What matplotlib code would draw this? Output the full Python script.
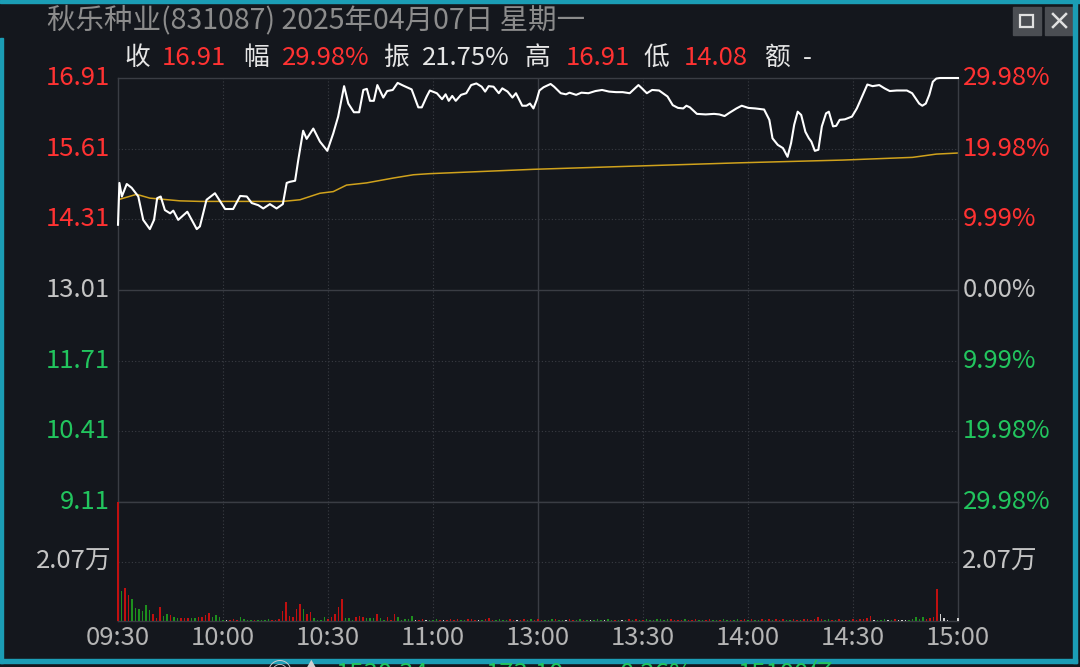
import matplotlib
matplotlib.use("Agg")
import matplotlib.pyplot as plt
from matplotlib.patches import Rectangle
from matplotlib.lines import Line2D
import matplotlib.transforms as mtransforms

plt.rcParams['font.family'] = ['Noto Sans CJK SC', 'DejaVu Sans']

# ---- data ----
title = "秋乐种业(831087) 2025年04月07日 星期一"
stat_labels = ["收", "幅", "振", "高", "低", "额"]
stat_values = ["16.91", "29.98%", "21.75%", "16.91", "14.08", "-"]

time_ticks = [0, 30, 60, 90, 120, 150, 180, 210, 240]
time_labels = ["09:30", "10:00", "10:30", "11:00", "13:00", "13:30", "14:00", "14:30", "15:00"]

price_ticks = [16.91, 15.61, 14.31, 13.01, 11.71, 10.41, 9.11]
price_labels = ["16.91", "15.61", "14.31", "13.01", "11.71", "10.41", "9.11"]
pct_labels = ["29.98%", "19.98%", "9.99%", "0.00%", "9.99%", "19.98%", "29.98%"]
prev_close = 13.01

vol_tick = 2.07
vol_label = "2.07万"

# price line (minute index, price)
price_min = [0, 0.4, 1.1, 2.5, 3.9, 5.8, 7.2, 9.1, 10.3, 11.2, 12.2, 13.4, 14.9, 15.8,
             17.2, 19.8, 22.5, 23.4, 25.3, 27.7, 30.6, 32.9, 34.9, 36.8, 38.2, 40.1,
             41.5, 43.4, 45.3, 47.1, 48.2, 49.1, 50.6, 51.5, 52.9, 53.9, 55.8, 57.7,
             59.8, 61.5, 62.9, 64.6, 65.8, 67.4, 68.9, 70.1, 71.1, 72, 73.1, 74.1,
             75.8, 76.9, 78.5, 79.9, 81.5, 83.9, 85.8, 86.8, 88.2,
             89.1, 91.1, 92.6, 93.6, 94.5, 95.5, 96.5, 98, 99.5, 100.9, 102.4, 103.9,
             104.9, 105.9, 107.3, 108.8, 109.8, 111.3, 112.7, 113.7, 115.5, 116.7,
             117.7, 118.7, 119.6, 120.4, 121.6, 123.6, 124.6, 126.5, 128, 129, 130.9,
             132.4, 134.4, 136.4, 138.3, 140.3, 142.3, 144.2, 146.2, 148.7, 149.7,
             151.1, 152.6, 154.6, 157, 158.5, 160, 161.5, 162.4, 163.4, 165.4, 167.9,
             170.3, 171.8, 173.3, 174.7, 176.7, 178.2, 180.1, 182.1, 184.6, 186.1,
             187, 188.5, 190, 191.3, 192.3, 193.2, 194.2, 195.2, 196.4, 197.4, 198.1,
             199.1, 200.1, 201.1, 202.3, 203.1, 204.3, 205.2, 206.2, 207.7, 209.7,
             211.1, 212.6, 214.1, 215.6, 217.5, 219, 220.5, 222.5, 225.4, 226.9,
             228.9, 229.8, 230.8, 231.8, 232.8, 233.8, 234.8, 240]
price = [14.21, 14.98, 14.73, 14.96, 14.89, 14.73, 14.30, 14.13, 14.30, 14.70, 14.73,
         14.48, 14.42, 14.47, 14.30, 14.45, 14.13, 14.18, 14.67, 14.79, 14.50, 14.50,
         14.74, 14.73, 14.61, 14.57, 14.51, 14.59, 14.51, 14.59, 14.98, 15.00, 15.02,
         15.40, 15.94, 15.79, 15.98, 15.74, 15.57, 15.89, 16.20, 16.76, 16.44, 16.28,
         16.28, 16.69, 16.71, 16.49, 16.49, 16.78, 16.55, 16.67, 16.69, 16.82, 16.77,
         16.70, 16.37, 16.37, 16.57,
         16.68, 16.63, 16.52, 16.61, 16.49, 16.58, 16.49, 16.60, 16.63, 16.78, 16.81,
         16.75, 16.66, 16.76, 16.75, 16.63, 16.72, 16.66, 16.55, 16.63, 16.40, 16.40,
         16.44, 16.35, 16.50, 16.68, 16.74, 16.80, 16.75, 16.63, 16.61, 16.64, 16.60,
         16.64, 16.63, 16.67, 16.69, 16.66, 16.65, 16.65, 16.63, 16.78, 16.72, 16.63,
         16.69, 16.68, 16.57, 16.41, 16.36, 16.35, 16.40, 16.37, 16.25, 16.24, 16.25,
         16.24, 16.21, 16.27, 16.35, 16.40, 16.36, 16.35, 16.33, 16.14, 15.80, 15.68,
         15.62, 15.46, 15.71, 16.05, 16.29, 16.23, 15.92, 15.80, 15.74, 15.57, 15.59,
         16.02, 16.26, 16.29, 16.02, 16.03, 16.14, 16.15, 16.20, 16.35, 16.57, 16.79,
         16.76, 16.78, 16.72, 16.67, 16.68, 16.68, 16.63, 16.44, 16.40, 16.44, 16.60,
         16.84, 16.90, 16.91, 16.91]

# average price line
avg_min = [0, 5.3, 9.1, 17.7, 23.4, 47.2, 52, 57.7, 61.5, 65.3, 71, 78.7, 84.4, 89,
           118.7, 148, 177.7, 207, 227, 233.8, 240]
avg_price = [14.67, 14.77, 14.70, 14.65, 14.64, 14.64, 14.67, 14.79, 14.82, 14.94, 14.98,
             15.07, 15.13, 15.15, 15.23, 15.29, 15.35, 15.40, 15.45, 15.51, 15.53]

# volume per minute (万 shares), r = up, g = down, w = flat
volume = [
    4.14, 1.05, 1.14, 0.91, 0.76, 0.44, 0.42, 0.35, 0.56, 0.38,
    0.24, 0.12, 0.50, 0.17, 0.24, 0.21, 0.15, 0.12, 0.09, 0.09,
    0.09, 0.12, 0.12, 0.13, 0.15, 0.21, 0.27, 0.15, 0.21, 0.13,
    0.04, 0.03, 0.05, 0.06, 0.04, 0.15, 0.06, 0.05, 0.04, 0.05,
    0.05, 0.04, 0.05, 0.06, 0.04, 0.05, 0.06, 0.35, 0.66, 0.19,
    0.13, 0.41, 0.59, 0.42, 0.23, 0.30, 0.12, 0.04, 0.05, 0.13,
    0.06, 0.15, 0.24, 0.50, 0.77, 0.12, 0.09, 0.05, 0.15, 0.17,
    0.15, 0.09, 0.09, 0.09, 0.24, 0.09, 0.05, 0.15, 0.05, 0.26,
    0.13, 0.05, 0.06, 0.06, 0.19, 0.05, 0.04, 0.06, 0.03, 0.05,
    0.05, 0.06, 0.04, 0.03, 0.05, 0.06, 0.04, 0.07, 0.05, 0.04,
    0.06, 0.08, 0.05, 0.04, 0.03, 0.07, 0.09, 0.05, 0.04, 0.06,
    0.05, 0.04, 0.06, 0.05, 0.03, 0.04, 0.06, 0.05, 0.07, 0.05,
    0.06, 0.05, 0.04, 0.05, 0.06, 0.07, 0.05, 0.04, 0.03, 0.06,
    0.05, 0.04, 0.06, 0.05, 0.04, 0.03, 0.05, 0.06, 0.04, 0.05,
    0.06, 0.05, 0.04, 0.05, 0.03, 0.04, 0.06, 0.05, 0.07, 0.05,
    0.05, 0.06, 0.04, 0.05, 0.06, 0.07, 0.05, 0.08, 0.06, 0.05,
    0.04, 0.05, 0.06, 0.05, 0.04, 0.06, 0.05, 0.04, 0.05, 0.06,
    0.05, 0.04, 0.05, 0.06, 0.05, 0.04, 0.05, 0.06, 0.05, 0.07,
    0.05, 0.06, 0.04, 0.05, 0.06, 0.05, 0.07, 0.05, 0.06, 0.05,
    0.06, 0.05, 0.04, 0.06, 0.05, 0.05, 0.06, 0.07, 0.05, 0.08,
    0.15, 0.06, 0.05, 0.06, 0.04, 0.05, 0.06, 0.05, 0.04, 0.05,
    0.06, 0.05, 0.06, 0.07, 0.09, 0.19, 0.05, 0.04, 0.05, 0.06,
    0.05, 0.04, 0.06, 0.05, 0.04, 0.05, 0.04, 0.08, 0.13, 0.06,
    0.15, 0.08, 0.12, 0.15, 1.10, 0.24, 0.09, 0.03, 0.00, 0.00,
    0.12,
]
vol_dir = "".join([
    "rgrrgggggg", "rrrggrggrr", "rggrrrrggg", "gwrrrggggr", "ggggrrrrrr",
    "rrrgrrgggg", "rrrrrgggrr", "rgggrggrrr", "gggggwrrwg", "ggrwrrrrgg",
    "rrrwgrrrgg", "ggrrwrrggr", "rrgggrggwr", "rggrgwgggw", "ggrgwgrgrg",
    "rgggggggrr", "rrgrrrggrr", "ggrggrggrr", "grggrgrgrr", "rggrrgrrrr",
    "rrggrgrgrg", "rrrrrrwggg", "wgrwwwgggg", "grrrrwwwww", "w",
])

# ---- style ----
BG = "#14171d"
GRID = "#3a3d44"
RED = "#ff3232"
GREEN = "#22c55e"
GREY = "#c4c4c4"
TEAL = "#1b9db5"
VOL_COL = {"r": "#c01010", "g": "#1e8f1e", "w": "#d0d0d0"}
FS = 18.5

W, H = 1080, 667


def fx(x):
    return x / W


def fy(y):
    return 1 - y / H


fig = plt.figure(figsize=(10.8, 6.67), dpi=100, facecolor=BG)

left, right = 118, 958
ax = fig.add_axes([fx(left), fy(502), (right - left) / W, (502 - 78) / H])
vax = fig.add_axes([fx(left), fy(621), (right - left) / W, (621 - 502) / H])

for a in (ax, vax):
    a.set_facecolor(BG)
    a.set_xlim(0, 240)
    a.set_xticks([])
    a.set_yticks([])
    for s in a.spines.values():
        s.set_color(GRID)
        s.set_linewidth(1)
    for t in time_ticks[1:-1]:
        if t == 120:
            a.axvline(t, color=GRID, lw=1, zorder=0)
        else:
            a.axvline(t, color=GRID, lw=0.8, ls=(0, (1, 2)), zorder=0)

ax.set_ylim(price_ticks[-1], price_ticks[0])
for p in price_ticks[1:-1]:
    if p == prev_close:
        ax.axhline(p, color=GRID, lw=1, zorder=0)
    else:
        ax.axhline(p, color=GRID, lw=0.8, ls=(0, (1, 2)), zorder=0)

ax.plot(avg_min, avg_price, color="#d0a21c", lw=1.1, zorder=2)
ax.plot(price_min, price, color="white", lw=1.5, zorder=3, clip_on=False)

trans_l = mtransforms.blended_transform_factory(ax.transAxes, ax.transData)
for p, lab, pct in zip(price_ticks, price_labels, pct_labels):
    if p > prev_close:
        c = RED
    elif p < prev_close:
        c = GREEN
    else:
        c = GREY
    ax.text(-0.0095, p, lab, transform=trans_l, ha="right", va="center",
            color=c, fontsize=FS, clip_on=False)
    ax.text(1.006, p, pct, transform=trans_l, ha="left", va="center",
            color=c, fontsize=FS, clip_on=False)

# volume
vax.set_ylim(0, 2 * vol_tick)
vax.axhline(vol_tick, color=GRID, lw=0.8, ls=(0, (1, 2)), zorder=0)
vax.bar(range(len(volume)), volume, width=0.45,
        color=[VOL_COL[d] for d in vol_dir], zorder=3, clip_on=False)
trans_v = mtransforms.blended_transform_factory(vax.transAxes, vax.transData)
vax.text(-0.0075, vol_tick, vol_label, transform=trans_v, ha="right", va="center",
         color=GREY, fontsize=FS, clip_on=False)
vax.text(1.005, vol_tick, vol_label, transform=trans_v, ha="left", va="center",
         color=GREY, fontsize=FS, clip_on=False)

trans_t = mtransforms.blended_transform_factory(vax.transData, fig.transFigure)
for t, lab in zip(time_ticks, time_labels):
    vax.text(t, fy(638), lab, transform=trans_t, ha="center", va="center",
             color="#b4b4b4", fontsize=FS, clip_on=False)

# header
fig.text(fx(47), fy(20), title, ha="left", va="center", color="#8c8c8c", fontsize=20.5)
label_x = [124, 243, 383, 524, 643, 764]
value_x = [162, 282, 422, 566, 684, 803]
value_col = [RED, RED, "#e6e6e6", RED, RED, "#e6e6e6"]
for lab, val, lx, vx, vc in zip(stat_labels, stat_values, label_x, value_x, value_col):
    fig.text(fx(lx), fy(58), lab, ha="left", va="center", color="#e6e6e6", fontsize=FS)
    fig.text(fx(vx), fy(58), val, ha="left", va="center", color=vc, fontsize=FS)

# window buttons
for bx in (1013, 1045):
    fig.add_artist(Rectangle((fx(bx), fy(35)), 28 / W, 28 / H,
                             transform=fig.transFigure, color="#4b4e53"))
fig.add_artist(Rectangle((fx(1020), fy(27)), 13 / W, 12 / H, transform=fig.transFigure,
                         fill=False, edgecolor="#e0e0e0", lw=1.6))
fig.add_artist(Line2D([fx(1053), fx(1066)], [fy(14), fy(27)], color="#e0e0e0", lw=1.8))
fig.add_artist(Line2D([fx(1053), fx(1066)], [fy(27), fy(14)], color="#e0e0e0", lw=1.8))

# teal window frame
fig.add_artist(Rectangle((0, fy(3)), 1, 3 / H, transform=fig.transFigure, color=TEAL))
fig.add_artist(Rectangle((0, fy(663)), 3 / W, (663 - 38) / H, transform=fig.transFigure, color=TEAL))
fig.add_artist(Rectangle((fx(1073), fy(663)), 4 / W, 663 / H, transform=fig.transFigure, color=TEAL))
fig.add_artist(Rectangle((0, fy(663)), 1077 / W, 4 / H, transform=fig.transFigure, color=TEAL))

# status row under the frame, cut off by the window edge as in the screenshot
bottom_items = ["1530.34", "173.10", "0.26%", "15100亿"]
bottom_x = [336, 486, 620, 738]
fig.text(fx(267), fy(674), "◎ ▲", ha="left", va="center", color="#d0d0d0", fontsize=FS)
for txt, bx in zip(bottom_items, bottom_x):
    fig.text(fx(bx), fy(674), txt, ha="left", va="center", color=GREEN, fontsize=FS)

fig.savefig("out.png", dpi=100, facecolor=BG)
